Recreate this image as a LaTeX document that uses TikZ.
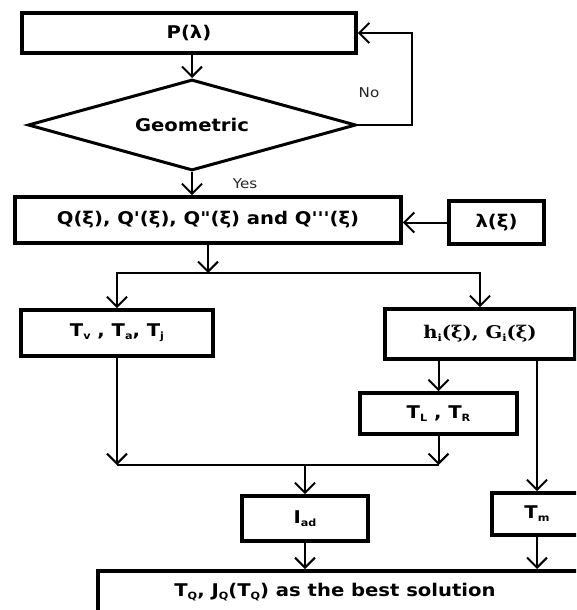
\documentclass[tikz,border=0pt]{standalone}
\usepackage{fontspec}
\usepackage{graphicx}
\setmainfont{DejaVu Sans}
\newfontfamily\serifbf{DejaVu Serif}
\usetikzlibrary{arrows.meta,shapes.geometric}
\newcommand\sbs[1]{\raisebox{-0.3ex}{\fontsize{10}{10}\selectfont #1}}
\newcommand\sx[1]{\scalebox{1.12}[1]{#1}}
\begin{document}
\begin{tikzpicture}[x=1pt,y=-1pt,
 txt/.style={font=\fontsize{17.5}{17.5}\selectfont\bfseries},
 box/.style={draw, line width=3.8pt, inner sep=0pt, txt},
 conn/.style={line width=2pt, -{Straight Barb[length=10pt,width=20pt]}},
 plain/.style={line width=2pt},
 lbl/.style={font=\fontsize{13.5}{13.5}\selectfont, text=black!85}]
\useasboundingbox (0,0) rectangle (576,610);
\clip (0,0) rectangle (576,610);
\node[box, minimum width=334pt, minimum height=40pt] (P) at (189,33) {\sx{P(λ)}};
\node[diamond, aspect=3.6, draw, line width=3pt, minimum width=328pt, minimum height=91pt, inner sep=0pt, txt] (geo) at (192,125) {\sx{Geometric}};
\node[box, minimum width=386pt, minimum height=46pt] (Q) at (208,220) {\sx{Q(ξ), Q\textquotesingle(ξ), Q\textquotedbl(ξ) and Q\textquotesingle\textquotesingle\textquotesingle(ξ)}};
\node[box, minimum width=95pt, minimum height=43pt] (lam) at (496.5,222.5) {\sx{λ(ξ)}};
\node[box, minimum width=192pt, minimum height=46pt] (Tv) at (117,333) {\sx{T\sbs{v} , T\sbs{a}, T\sbs{j}}};
\node[box, minimum width=190pt, minimum height=50pt] (h) at (480,334) {\sx{\serifbf h\sbs{i}(ξ), G\sbs{i}(ξ)}};
\node[box, minimum width=157pt, minimum height=41pt] (TL) at (438.5,413.5) {\sx{T\sbs{L} , T\sbs{R}}};
\node[box, minimum width=126pt, minimum height=45pt] (Iad) at (305,518.5) {\sx{I\sbs{ad}}};
\node[box, minimum width=90pt, minimum height=42pt] (Tm) at (537,514) {\sx{T\sbs{m}}};
\node[box, minimum width=520pt, minimum height=70pt, anchor=north west] (best) at (96,569) {};
\node[txt] (bestt) at (335,592) {\sx{T\sbs{Q}, J\sbs{Q}(T\sbs{Q}) as the best solution}};
\node[lbl] (yes) at (245,184) {\sx{Yes}};
\node[lbl] (no) at (369,93) {\sx{No}};
\draw[conn] (P.south -| geo.north) -- (geo.north);
\draw[conn] (geo.east) -- ++(54,0) |- (P.east);
\draw[conn] (geo.south) -- (geo.south |- Q.north);
\draw[conn] (lam.west) -- (lam.west -| Q.east);
\coordinate (split) at (208,273);
\coordinate (join) at (305,465);
\draw[conn] (Q.south -| split) -- (split);
\draw[conn] (split) -| (Tv.north);
\draw[conn] (split) -| (h.north);
\draw[conn] (h.south -| TL.north) -- (TL.north);
\draw[conn] (Tv.south) -- (Tv.south |- join);
\draw[conn] (TL.south) -- (TL.south |- join);
\draw[plain] (Tv.south |- join) -- (TL.south |- join);
\draw[conn] (join) -- (Iad.north);
\draw[conn] (h.south -| Tm.north) -- (Tm.north);
\draw[conn] (Iad.south) -- (Iad.south |- best.north);
\draw[conn] (Tm.south) -- (Tm.south |- best.north);
\end{tikzpicture}
\end{document}
